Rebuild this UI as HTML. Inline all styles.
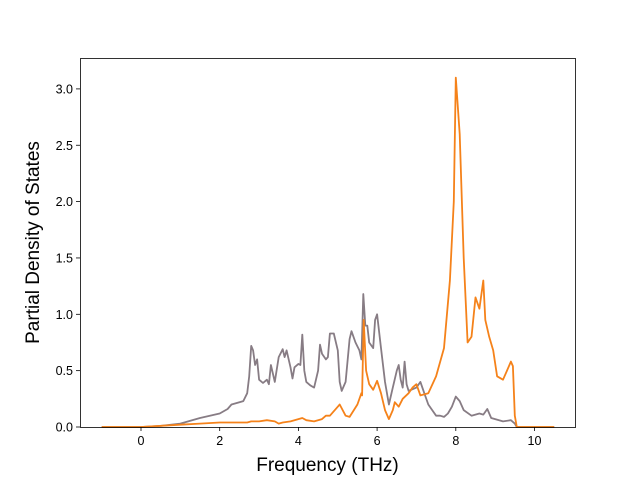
<!DOCTYPE html>
<html><head><meta charset="utf-8"><style>
body{margin:0;background:#fff}
svg{display:block;font-family:"Liberation Sans","DejaVu Sans",sans-serif}
</style></head><body>
<svg id="chart" width="640" height="480" xmlns="http://www.w3.org/2000/svg">
<rect width="640" height="480" fill="#fff"/>
<g id="plot"></g>
<g id="axes"></g>
</svg>
<script>
const freqA=[-1,0,0.5,1,1.5,2,2.2,2.3,2.5,2.6,2.7,2.75,2.8,2.85,2.9,2.95,3.0,3.1,3.2,3.25,3.3,3.4,3.5,3.6,3.65,3.7,3.8,3.85,3.9,4.0,4.05,4.1,4.15,4.2,4.3,4.4,4.5,4.55,4.6,4.7,4.75,4.8,4.9,5.0,5.05,5.1,5.2,5.3,5.35,5.45,5.55,5.6,5.65,5.7,5.75,5.8,5.9,5.95,6.0,6.1,6.2,6.3,6.4,6.5,6.55,6.6,6.65,6.7,6.75,6.8,7.0,7.1,7.2,7.3,7.4,7.5,7.6,7.7,7.8,7.9,8.0,8.1,8.2,8.4,8.6,8.7,8.8,8.9,9.2,9.4,9.5,9.55,10.5];
const grayVals=[0,0,0.01,0.03,0.08,0.12,0.16,0.2,0.22,0.23,0.3,0.45,0.72,0.68,0.55,0.6,0.42,0.39,0.42,0.38,0.55,0.4,0.62,0.69,0.62,0.68,0.53,0.43,0.53,0.56,0.55,0.82,0.5,0.4,0.37,0.35,0.5,0.73,0.65,0.6,0.62,0.83,0.83,0.68,0.4,0.32,0.4,0.78,0.85,0.75,0.68,0.6,1.18,0.9,0.9,0.75,0.7,0.95,1.0,0.7,0.4,0.2,0.35,0.5,0.55,0.42,0.35,0.58,0.38,0.32,0.35,0.4,0.3,0.2,0.15,0.1,0.1,0.09,0.12,0.18,0.27,0.23,0.15,0.1,0.12,0.11,0.16,0.08,0.05,0.06,0.03,0,0];
const freqB=[-1,0,1,1.5,2,2.5,2.7,2.8,3,3.2,3.4,3.5,3.6,3.8,4.0,4.1,4.2,4.4,4.6,4.7,4.8,5.0,5.05,5.2,5.3,5.5,5.6,5.62,5.66,5.72,5.8,5.9,6.0,6.1,6.2,6.3,6.4,6.45,6.55,6.65,6.8,6.9,7.0,7.1,7.3,7.5,7.7,7.85,7.95,8.0,8.1,8.2,8.3,8.4,8.5,8.6,8.7,8.75,8.85,8.95,9.05,9.2,9.3,9.4,9.45,9.5,9.55,10.5];
const orangeVals=[0,0,0.02,0.03,0.04,0.04,0.04,0.05,0.05,0.06,0.05,0.03,0.04,0.05,0.07,0.08,0.06,0.05,0.07,0.1,0.1,0.18,0.2,0.1,0.09,0.2,0.3,0.28,0.95,0.5,0.38,0.33,0.41,0.3,0.15,0.07,0.15,0.22,0.18,0.25,0.3,0.35,0.38,0.28,0.3,0.45,0.7,1.3,2.0,3.1,2.6,1.5,0.75,0.8,1.15,1.05,1.3,0.95,0.8,0.68,0.45,0.42,0.5,0.58,0.54,0.1,0,0];
const xTicks=[0,2,4,6,8,10];
const yTicks=[0,0.5,1.0,1.5,2.0,2.5,3.0];
const L=80,R=575,T=58,B=427;
const xs=f=>141+(f-0)*39.35;
const ys=v=>427-v*112.7;
const NS="http://www.w3.org/2000/svg";
const plot=document.getElementById('plot'),axes=document.getElementById('axes');
function mk(t,a,p){const e=document.createElementNS(NS,t);for(const k in a)e.setAttribute(k,a[k]);p.appendChild(e);return e;}
function pts(fx,vy){return fx.map((f,i)=>xs(f).toFixed(1)+','+ys(vy[i]).toFixed(1)).join(' ');}
const lg=mk('polyline',{points:pts(freqA,grayVals),fill:'none',stroke:'#877c84','stroke-width':1.8,'stroke-linejoin':'round'},plot);


const lo=mk('polyline',{points:pts(freqB,orangeVals),fill:'none',stroke:'#f5821a','stroke-width':1.8,'stroke-linejoin':'round'},plot);


const fr=mk('rect',{x:L+0.5,y:T+0.5,width:R-L,height:B-T,fill:'none',stroke:'#000','stroke-width':0.8},axes);


xTicks.forEach(t=>{const x=xs(t);
mk('line',{x1:x,y1:B,x2:x,y2:B+4,stroke:'#000','stroke-width':0.8},axes);
const tx=mk('text',{x:x,y:B+18,'text-anchor':'middle','font-size':'12.5'},axes);tx.textContent=t;

});
yTicks.forEach(t=>{const y=ys(t);
mk('line',{x1:L-4,y1:y,x2:L,y2:y,stroke:'#000','stroke-width':0.8},axes);
const tx=mk('text',{x:L-7,y:y+4.5,'text-anchor':'end','font-size':'12.5'},axes);tx.textContent=t.toFixed(1);

});
const xl=mk('text',{x:(L+R)/2,y:471,'text-anchor':'middle','font-size':'19'},axes);xl.textContent='Frequency (THz)';


const yl=mk('text',{x:0,y:0,'text-anchor':'middle','font-size':'19',transform:'translate(39,'+((T+B)/2)+') rotate(-90)'},axes);yl.textContent='Partial Density of States';


</script>
</body></html>
